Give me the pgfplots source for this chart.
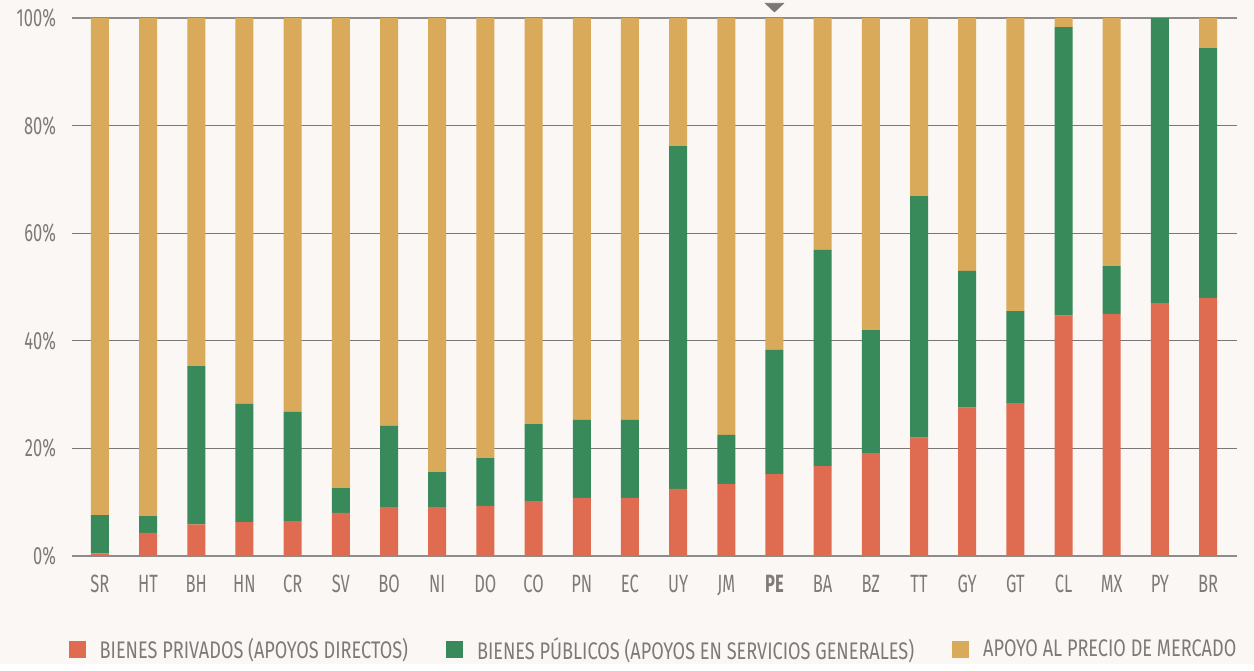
\documentclass[border=0pt]{standalone}
\usepackage{fontspec}
\setmainfont{Fira Sans}[FakeStretch=0.66]
\newfontfamily\legendfont{Fira Sans}[FakeStretch=0.755]
\usepackage{pgfplots}
\usepackage{pgfplotstable}
\pgfplotsset{compat=1.18}
\definecolor{bg}{HTML}{FAF7F4}
\definecolor{cred}{HTML}{DF6C50}
\definecolor{cgreen}{HTML}{388A5A}
\definecolor{cyellow}{HTML}{D8AA5A}
\definecolor{ctext}{HTML}{7F7A78}
\definecolor{cgrid}{HTML}{7A7777}
\pgfplotstableread{
x red green yellow
0 0.5 7.1 92.4
1 4.3 3.1 92.6
2 5.9 29.4 64.7
3 6.3 22.0 71.7
4 6.5 20.3 73.2
5 8.0 4.6 87.4
6 9.1 15.1 75.8
7 9.1 6.5 84.4
8 9.3 8.9 81.8
9 10.2 14.3 75.5
10 10.8 14.5 74.7
11 10.8 14.5 74.7
12 12.5 63.7 23.8
13 13.4 9.1 77.5
14 15.2 23.1 61.7
15 16.7 40.2 43.1
16 19.1 22.9 58.0
17 22.0 44.9 33.1
18 27.6 25.4 47.0
19 28.4 17.1 54.5
20 44.7 53.6 1.7
21 45.0 8.9 46.1
22 47.0 53.0 0.0
23 48.0 46.4 5.6
}\data
\pgfplotstableread{
x y
14 102.2
}\marker
\begin{document}
\begin{tikzpicture}
\fill[bg] (-36pt,-54pt) rectangle (591pt,278pt);
\begin{axis}[
  at={(0,0)}, anchor=south west,
  scale only axis, width=582.5pt, height=269pt,
  xmin=-0.58, xmax=23.6, ymin=0, ymax=100,
  ybar stacked, bar width=9pt,
  clip=false,
  axis line style={draw=none},
  major tick length=0pt,
  font=\fontsize{12.5}{14}\selectfont\color{ctext},
  xtick=data,
  xticklabels={SR,HT,BH,HN,CR,SV,BO,NI,DO,CO,PN,EC,UY,JM,\textbf{PE},BA,BZ,TT,GY,GT,CL,MX,PY,BR},
  xticklabel style={yshift=-6pt, text=ctext},
  ytick={0,20,40,60,80,100},
  yticklabels={0\%,20\%,40\%,60\%,80\%,100\%},
  yticklabel style={xshift=-4.5pt, text=ctext},
  ymajorgrids, grid style={cgrid, line width=0.55pt},
  extra y ticks={0,100}, extra y tick labels={},
  extra y tick style={grid style={cgrid!85, line width=0.9pt}},
  legend columns=3,
  legend style={at={(0.5,-0.1747)}, anchor=center, draw=none, fill=none,
    font=\legendfont\fontsize{12}{14}\selectfont\color{ctext},
    /tikz/every even column/.append style={column sep=17pt},
    /tikz/every odd column/.append style={column sep=5pt}},
  legend image code/.code={\fill[#1] (0pt,-4.25pt) rectangle (8.5pt,4.25pt);},
]
\addplot+[fill=cred, draw=none] table[x=x,y=red]{\data};
\addlegendentry{BIENES PRIVADOS (APOYOS DIRECTOS)}
\addplot+[fill=cgreen, draw=none] table[x=x,y=green]{\data};
\addlegendentry{BIENES PÚBLICOS (APOYOS EN SERVICIOS GENERALES)}
\addplot+[fill=cyellow, draw=none] table[x=x,y=yellow]{\data};
\addlegendentry{APOYO AL PRECIO DE MERCADO}
\end{axis}
\begin{axis}[
  at={(0,0)}, anchor=south west,
  scale only axis, width=582.5pt, height=269pt,
  xmin=-0.58, xmax=23.6, ymin=0, ymax=100,
  clip=false, hide axis,
]
\addplot[only marks, mark=triangle*, mark size=5.2pt, color=cgrid,
  mark options={rotate=180, yscale=0.55}] table[x=x,y=y]{\marker};
\end{axis}
\end{tikzpicture}
\end{document}
